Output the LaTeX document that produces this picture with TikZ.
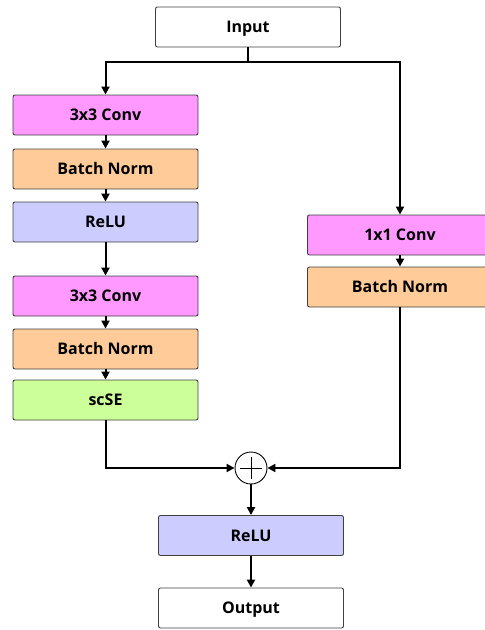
\documentclass[tikz,border=0pt]{standalone}
\usepackage{fontspec}
\setmainfont{Open Sans}
\usetikzlibrary{arrows.meta}
\definecolor{cpink}{HTML}{FF99FF}
\definecolor{corange}{HTML}{FFCC99}
\definecolor{cblue}{HTML}{CCCCFF}
\definecolor{cgreen}{HTML}{CCFF99}
\definecolor{cborder}{HTML}{404040}
\begin{document}
\begin{tikzpicture}[x=1pt,y=-1pt,
  blk/.style={draw=cborder,line width=0.9pt,rounded corners=2pt,minimum width=185pt,minimum height=40pt,inner sep=0pt,text height=11.3pt,text depth=0pt,font=\fontsize{16}{18}\selectfont\bfseries},
  conn/.style={line width=2pt,-{Triangle[length=8pt,width=8pt]}},
  plain/.style={line width=2pt}]
\useasboundingbox (0,0) rectangle (485,630);
\node[blk,fill=white] (in) at (248,27) {Input};
\node[blk,fill=cpink] (c1) at (105.5,115) {3x3 Conv};
\node[blk,fill=corange] (b1) at (105.5,169) {Batch Norm};
\node[blk,fill=cblue] (r1) at (105.5,222) {ReLU};
\node[blk,fill=cpink] (c2) at (105.5,296) {3x3 Conv};
\node[blk,fill=corange] (b2) at (105.5,349) {Batch Norm};
\node[blk,fill=cgreen] (se) at (105.5,400) {scSE};
\node[blk,fill=cpink] (c3) at (400,235) {1x1 Conv};
\node[blk,fill=corange] (b3) at (400,287) {Batch Norm};
\node[draw=black,line width=0.9pt,circle,minimum size=32pt,inner sep=0pt,fill=white] (sum) at (251,468) {};
\draw[line width=0.9pt] ([yshift=-11pt]sum.center) -- ([yshift=11pt]sum.center) ([xshift=-11pt]sum.center) -- ([xshift=11pt]sum.center);
\node[blk,fill=cblue] (r2) at (251,535.5) {ReLU};
\node[blk,fill=white] (out) at (251,608) {Output};
\coordinate (split) at (248,62);
\draw[plain] (in.south) -- (split);
\draw[conn] (split) -| (c1.north);
\draw[conn] (split) -| (c3.north);
\draw[conn] (c1) -- (b1);
\draw[conn] (b1) -- (r1);
\draw[conn] (r1) -- (c2);
\draw[conn] (c2) -- (b2);
\draw[conn] (b2) -- (se);
\draw[conn] (c3) -- (b3);
\draw[conn] (se.south) |- (sum.west);
\draw[conn] (b3.south) |- (sum.east);
\draw[conn] (sum.south) -- (r2.north);
\draw[conn] (r2) -- (out);
\end{tikzpicture}
\end{document}
